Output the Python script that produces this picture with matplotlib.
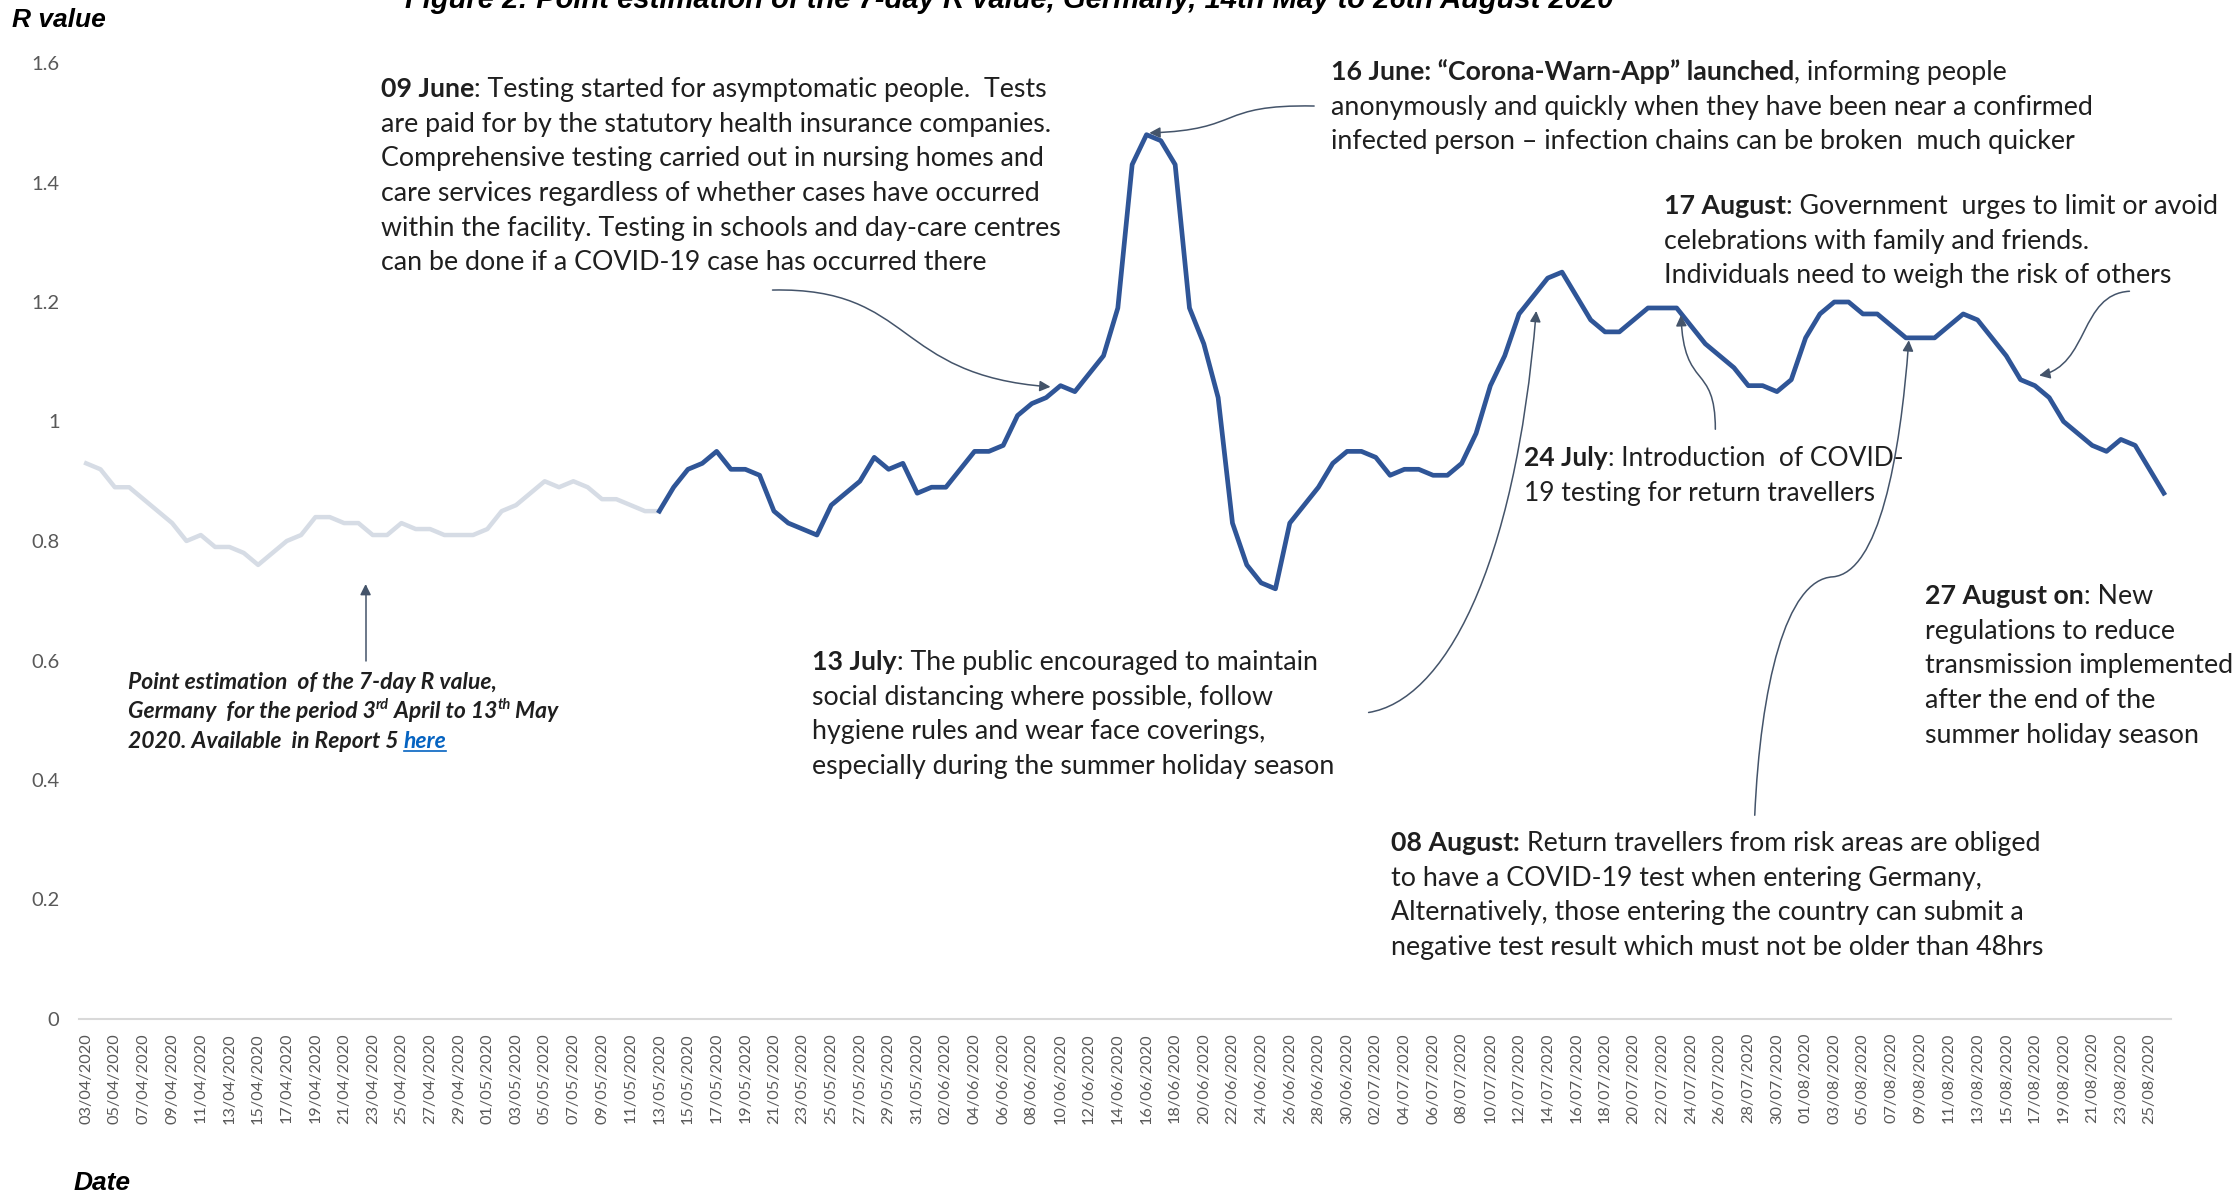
import matplotlib
matplotlib.use("Agg")
import matplotlib.pyplot as plt
import numpy as np
import pandas as pd
from matplotlib.path import Path
from matplotlib.patches import FancyArrowPatch
from matplotlib.lines import Line2D

# daily dates, 3 April to 26 August 2020
dates = pd.date_range("2020-04-03", "2020-08-26", freq="D")
date_labels = [d.strftime("%d/%m/%Y") for d in dates]

# previous report, 03/04 - 13/05 (light grey)
r_previous = [0.93, 0.92, 0.89, 0.89, 0.87, 0.85, 0.83, 0.80, 0.81, 0.79,
              0.79, 0.78, 0.76, 0.78, 0.80, 0.81, 0.84, 0.84, 0.83, 0.83,
              0.81, 0.81, 0.83, 0.82, 0.82, 0.81, 0.81, 0.81, 0.82, 0.85,
              0.86, 0.88, 0.90, 0.89, 0.90, 0.89, 0.87, 0.87, 0.86, 0.85,
              0.85]

# this report, 13/05 - 26/08 (dark blue)
r_current = [0.85, 0.89, 0.92, 0.93, 0.95, 0.92, 0.92, 0.91, 0.85, 0.83,
             0.82, 0.81, 0.86, 0.88, 0.90, 0.94, 0.92, 0.93, 0.88, 0.89,
             0.89, 0.92, 0.95, 0.95, 0.96, 1.01, 1.03, 1.04, 1.06, 1.05,
             1.08, 1.11, 1.19, 1.43, 1.48, 1.47, 1.43, 1.19, 1.13, 1.04,
             0.83, 0.76, 0.73, 0.72, 0.83, 0.86, 0.89, 0.93, 0.95, 0.95,
             0.94, 0.91, 0.92, 0.92, 0.91, 0.91, 0.93, 0.98, 1.06, 1.11,
             1.18, 1.21, 1.24, 1.25, 1.21, 1.17, 1.15, 1.15, 1.17, 1.19,
             1.19, 1.19, 1.16, 1.13, 1.11, 1.09, 1.06, 1.06, 1.05, 1.07,
             1.14, 1.18, 1.20, 1.20, 1.18, 1.18, 1.16, 1.14, 1.14, 1.14,
             1.16, 1.18, 1.17, 1.14, 1.11, 1.07, 1.06, 1.04, 1.00, 0.98,
             0.96, 0.95, 0.97, 0.96, 0.92, 0.88]

y_ticks = [0, 0.2, 0.4, 0.6, 0.8, 1, 1.2, 1.4, 1.6]
y_tick_labels = ["0", "0.2", "0.4", "0.6", "0.8", "1", "1.2", "1.4", "1.6"]

BODY = ["Lato", "DejaVu Sans"]
HEAD = ["Liberation Sans", "DejaVu Sans"]
TXT = "#1f1f1f"
ARROW = "#44546a"

W, H = 2239, 1194
fig = plt.figure(figsize=(W / 100, H / 100), dpi=100)
ax = fig.add_axes([79 / W, 1 - 1019 / H, (2171 - 79) / W, (1019 - 63) / H])

x_all = np.arange(len(dates))
x_prev = x_all[:len(r_previous)]
x_curr = x_all[len(r_previous) - 1:len(r_previous) - 1 + len(r_current)]

ax.plot(x_prev, r_previous, color="#d6dce5", lw=3.2, solid_joinstyle="round", zorder=3)
ax.plot(x_curr, r_current, color="#2f5597", lw=3.4, solid_joinstyle="round", zorder=4)

ax.set_xlim(-0.5, len(dates) - 0.5)
ax.set_ylim(0, 1.6)
ax.set_yticks(y_ticks)
ax.set_yticklabels(y_tick_labels, family=BODY, fontsize=14.5, color="#595959")
ax.set_xticks(x_all[::2])
ax.set_xticklabels(date_labels[::2], rotation=90, family=BODY, fontsize=11.7, color="#595959")
ax.tick_params(axis="y", length=0, pad=14)
ax.tick_params(axis="x", length=0, pad=10)
for s in ["top", "right", "left"]:
    ax.spines[s].set_visible(False)
ax.spines["bottom"].set_color("#d9d9d9")
ax.spines["bottom"].set_linewidth(1.5)

# titles and axis names (title is cropped at the top edge, as in the source)
fig.text(1009 / W, 1 - 8 / H, "Figure 2: Point estimation of the 7-day R value, Germany, 14th May to 26th August 2020",
         family=HEAD, fontsize=21, fontweight="bold", fontstyle="italic", ha="center", va="baseline")
fig.text(12 / W, 1 - 20 / H, "R value", family=HEAD, fontsize=19, fontweight="bold",
         fontstyle="italic", ha="left", va="center")
fig.text(74 / W, 1 - 1183 / H, "Date", family=HEAD, fontsize=19, fontweight="bold",
         fontstyle="italic", ha="left", va="center")

renderer = fig.canvas.get_renderer()


def rich_line(x, y, parts, size=18, **common):
    # x, y: pixels from top-left, y is the baseline
    cx = x
    for part in parts:
        txt = part[0]
        kw = dict(common)
        if len(part) > 1:
            kw.update(part[1])
        rise = kw.pop("rise", 0)
        under = kw.pop("underline", False)
        fs = kw.pop("size", size)
        kw.setdefault("color", TXT)
        kw.setdefault("family", BODY)
        t = fig.text(cx / W, 1 - (y - rise) / H, txt, fontsize=fs, ha="left", va="baseline", **kw)
        bb = t.get_window_extent(renderer=renderer)
        if under:
            fig.add_artist(Line2D([cx / W, (cx + bb.width) / W], [1 - (y + 3) / H] * 2,
                                  color=kw["color"], lw=1.2))
        cx += bb.width
    return cx


B = {"fontweight": "bold"}


def block(x, y0, lines, step=34.7, size=19.3):
    for i, parts in enumerate(lines):
        rich_line(x, y0 + i * step, parts, size=size)


block(381, 97, [
    [("09 June", B), (": Testing started for asymptomatic people.  Tests",)],
    [("are paid for by the statutory health insurance companies.",)],
    [("Comprehensive testing carried out in nursing homes and",)],
    [("care services regardless of whether cases have occurred",)],
    [("within the facility. Testing in schools and day-care centres",)],
    [("can be done if a COVID-19 case has occurred there",)],
])

block(1331, 80, [
    [("16 June: \u201cCorona-Warn-App\u201d launched", B), (", informing people",)],
    [("anonymously and quickly when they have been near a confirmed",)],
    [("infected person \u2013 infection chains can be broken  much quicker",)],
])

block(1664, 214, [
    [("17 August", B), (": Government  urges to limit or avoid",)],
    [("celebrations with family and friends.",)],
    [("Individuals need to weigh the risk of others",)],
])

block(1524, 466, [
    [("24 July", B), (": Introduction  of COVID-",)],
    [("19 testing for return travellers",)],
], size=19)

block(812, 670, [
    [("13 July", B), (": The public encouraged to maintain",)],
    [("social distancing where possible, follow",)],
    [("hygiene rules and wear face coverings,",)],
    [("especially during the summer holiday season",)],
])

block(1391, 851, [
    [("08 August:", B), (" Return travellers from risk areas are obliged",)],
    [("to have a COVID-19 test when entering Germany,",)],
    [("Alternatively, those entering the country can submit a",)],
    [("negative test result which must not be older than 48hrs",)],
])

block(1925, 604, [
    [("27 August on", B), (": New",)],
    [("regulations to reduce",)],
    [("transmission implemented",)],
    [("after the end of the",)],
    [("summer holiday season",)],
])

NOTE = {"fontweight": "bold", "fontstyle": "italic"}
SUP = {"fontweight": "bold", "fontstyle": "italic", "size": 10.5, "rise": 9}
rich_line(128, 689, [("Point estimation  of the 7-day R value,", NOTE)], size=16.5)
rich_line(128, 718, [("Germany  for the period 3", NOTE), ("rd", SUP), (" April to 13", NOTE),
                     ("th", SUP), (" May", NOTE)], size=16.5)
rich_line(128, 748, [("2020. Available  in Report 5 ", NOTE),
                     ("here", dict(NOTE, color="#0563c1", underline=True))], size=16.5)


# callout arrows, given as bezier control points in (day, R) units
def curved_arrow(points, codes=None):
    if codes is None:
        codes = [Path.MOVETO] + [Path.CURVE4] * (len(points) - 1)
    p = FancyArrowPatch(path=Path(points, codes), arrowstyle="-|>", mutation_scale=16,
                        color=ARROW, lw=1.1, transform=ax.transData, zorder=5)
    p.set_clip_on(False)
    ax.add_patch(p)


curved_arrow([(47.9, 1.220), (57.8, 1.225), (56.3, 1.077), (67.3, 1.058)])
curved_arrow([(85.7, 1.528), (78.8, 1.531), (80.8, 1.488), (74.2, 1.483)])
curved_arrow([(89.5, 0.513), (94.7, 0.533), (99.7, 0.747), (101.2, 1.185)])
curved_arrow([(113.7, 0.987), (113.7, 1.10), (111.5, 1.05), (111.3, 1.178)])
curved_arrow([(116.45, 0.341), (116.85, 0.556), (118.6, 0.736), (121.9, 0.740),
              (125.1, 0.747), (126.6, 0.938), (127.2, 1.136)])
curved_arrow([(142.6, 1.218), (139.1, 1.213), (139.8, 1.094), (136.3, 1.077)])
curved_arrow([(19.5, 0.600), (19.5, 0.728)], codes=[Path.MOVETO, Path.LINETO])

fig.savefig("out.png", dpi=100)
